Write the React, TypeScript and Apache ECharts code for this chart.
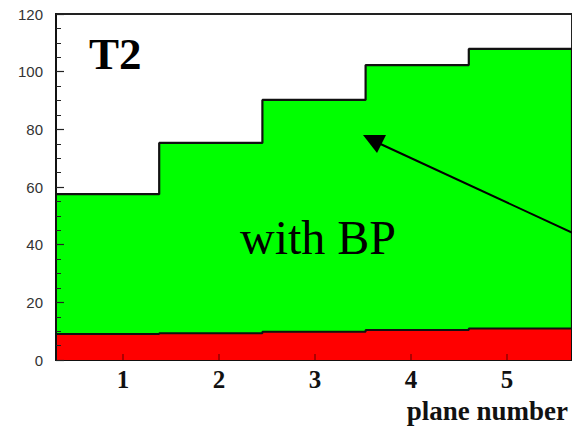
import React, { useEffect, useRef } from "react";
import * as echarts from "echarts";

const binEdges = [0, 1, 2, 3, 4, 5];
const totalValues = [57.5, 75.3, 90.2, 102.3, 107.9];
const redValues = [9.0, 9.3, 9.8, 10.4, 10.9];
const planeLabels = ["1", "2", "3", "4", "5"];
const yMin = 0;
const yMax = 120;
const yInterval = 20;

function stepData(values: number[]): number[][] {
  const pts: number[][] = values.map((v, i) => [binEdges[i], v]);
  const last = binEdges[binEdges.length - 1];
  pts.push([last, values[values.length - 1]]);
  pts.push([last, 0]);
  return pts;
}

const SERIF = "'Liberation Serif', 'Times New Roman', serif";

export default function App() {
  const ref = useRef<HTMLDivElement>(null);
  useEffect(() => {
    if (!ref.current) return;
    const chart = echarts.init(ref.current, undefined, { renderer: "svg" });
    chart.setOption({
      animation: false,
      backgroundColor: "#ffffff",
      grid: [
        {
          left: 56,
          right: 0,
          top: 14,
          bottom: 67,
          show: true,
          borderColor: "#222",
          borderWidth: 2,
          backgroundColor: "transparent",
        },
        { left: 75, width: 480, top: 14, bottom: 67 },
      ],
      xAxis: [
        {
          type: "value",
          gridIndex: 0,
          min: 0,
          max: 5,
          axisLabel: { show: false },
          axisTick: { show: false },
          splitLine: { show: false },
          axisLine: { show: true, lineStyle: { color: "#111", width: 2 } },
        },
        {
          type: "category",
          gridIndex: 1,
          data: planeLabels,
          boundaryGap: true,
          z: 10,
          axisLine: { show: false },
          axisTick: {
            show: true,
            inside: true,
            alignWithLabel: true,
            length: 6,
            lineStyle: { color: "rgba(60,0,0,0.55)", width: 1.5 },
          },
          axisLabel: {
            color: "#111",
            fontFamily: SERIF,
            fontWeight: "bold",
            fontSize: 25,
            margin: 7,
          },
          splitLine: { show: false },
        },
      ],
      yAxis: [
        {
          type: "value",
          gridIndex: 0,
          min: yMin,
          max: yMax,
          interval: yInterval,
          z: 10,
          axisLine: { show: true, lineStyle: { color: "#111", width: 2 } },
          axisTick: {
            show: true,
            inside: true,
            length: 8,
            lineStyle: { color: "#222", width: 1.2 },
          },
          minorTick: {
            show: true,
            splitNumber: 4,
            length: 5,
            lineStyle: { color: "#222", width: 1 },
          },
          splitLine: { show: false },
          minorSplitLine: { show: false },
          axisLabel: {
            color: "#333",
            fontFamily: "'Liberation Sans', Arial, sans-serif",
            fontSize: 15,
            margin: 13,
          },
        },
        {
          type: "value",
          gridIndex: 1,
          show: false,
          min: yMin,
          max: yMax,
        },
      ],
      series: [
        {
          type: "line",
          xAxisIndex: 0,
          yAxisIndex: 0,
          step: "end",
          symbol: "none",
          data: stepData(totalValues),
          lineStyle: { color: "#111", width: 2.2 },
          areaStyle: { color: "#00ff00", opacity: 1 },
          z: 2,
        },
        {
          type: "line",
          xAxisIndex: 0,
          yAxisIndex: 0,
          step: "end",
          symbol: "none",
          data: stepData(redValues),
          lineStyle: { color: "#111", width: 2 },
          areaStyle: { color: "#ff0000", opacity: 1 },
          z: 3,
        },
      ],
      graphic: [
        {
          type: "text",
          left: 89,
          top: 31,
          z: 20,
          style: {
            text: "T2",
            fill: "#000",
            fontFamily: SERIF,
            fontWeight: "bold",
            fontSize: 45,
          },
        },
        {
          type: "text",
          left: 240,
          top: 213,
          z: 20,
          style: {
            text: "with BP",
            fill: "#000",
            fontFamily: SERIF,
            fontSize: 48,
          },
        },
        {
          type: "text",
          right: 4,
          top: 397,
          z: 20,
          style: {
            text: "plane number",
            fill: "#111",
            fontFamily: SERIF,
            fontWeight: "bold",
            fontSize: 27,
          },
        },
        {
          type: "line",
          z: 20,
          shape: { x1: 575, y1: 234, x2: 374, y2: 141 },
          style: { stroke: "#000", lineWidth: 2 },
        },
        {
          type: "polygon",
          z: 20,
          shape: {
            points: [
              [363, 135],
              [386, 135],
              [377, 153],
            ],
          },
          style: { fill: "#000" },
        },
      ],
    });
    return () => chart.dispose();
  }, []);
  return (
    <div
      ref={ref}
      style={{ position: "fixed", left: 0, top: 0, width: 572, height: 427 }}
    />
  );
}
